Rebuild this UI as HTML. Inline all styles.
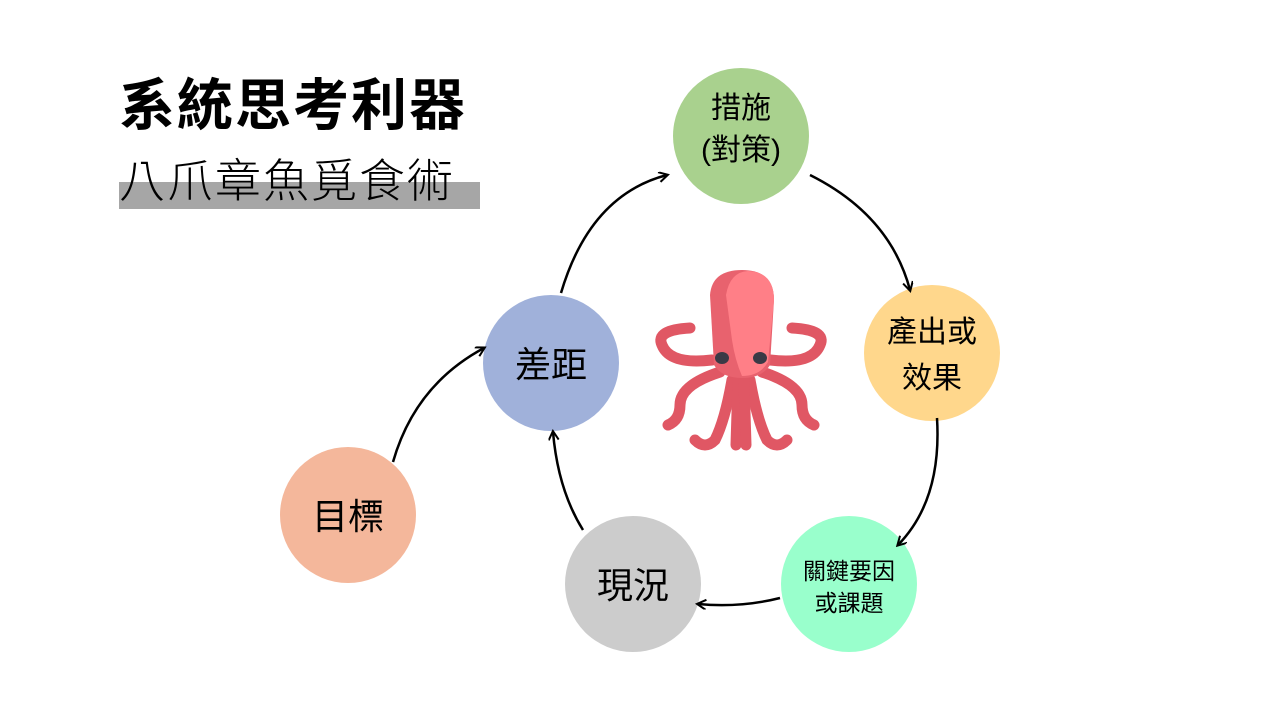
<!DOCTYPE html>
<html><head><meta charset="utf-8"><style>
body{margin:0;width:1280px;height:720px;background:#fff;overflow:hidden;position:relative;font-family:"Liberation Sans","Noto Sans CJK TC",sans-serif}
.t{position:absolute;white-space:nowrap}
</style></head><body>
<div class="t" style="left:119px;top:182px;width:361px;height:27px;background:#a6a6a6"></div>
<div class="t" style="left:119px;top:68px;font-size:56px;font-weight:bold;line-height:76px;color:#000;letter-spacing:2px">系統思考利器</div>
<div class="t" style="left:119px;top:148px;font-size:46px;font-weight:300;line-height:66px;color:#000;letter-spacing:2px">八爪章魚覓食術</div>
<svg width="1280" height="720" style="position:absolute;left:0;top:0">
<defs><marker id="a" markerWidth="12" markerHeight="12" refX="9" refY="5" orient="auto" markerUnits="userSpaceOnUse"><path d="M1,0 L10,5 L1,10" fill="none" stroke="#000" stroke-width="2"/></marker></defs>
<circle cx="741" cy="136" r="68" fill="#a9d18e"/>
<circle cx="932" cy="353" r="68" fill="#ffd78c"/>
<circle cx="849" cy="584" r="68" fill="#99ffcc"/>
<circle cx="633" cy="584" r="68" fill="#cccccc"/>
<circle cx="551" cy="363" r="68" fill="#a0b1da"/>
<circle cx="348" cy="515" r="68" fill="#f4b79b"/>
<g fill="none" stroke="#000" stroke-width="2.5" marker-end="url(#a)">
<path d="M561,293 Q590,195 667,175"/>
<path d="M810,175 Q890,215 910,290"/>
<path d="M937,418 Q942,500 898,545"/>
<path d="M780,598 Q740,608 698,604"/>
<path d="M583,530 Q558,490 553,432"/>
<path d="M393,462 Q415,385 484,348"/>
</g>
<g font-family="Liberation Sans,Noto Sans CJK TC,sans-serif" fill="#000" text-anchor="middle">
<text x="741" y="118" font-size="30">措施</text>
<text x="741" y="160" font-size="30">(對策)</text>
<text x="932" y="342" font-size="30">產出或</text>
<text x="932" y="388" font-size="30">效果</text>
<text x="849" y="579" font-size="23">關鍵要因</text>
<text x="849" y="611" font-size="23">或課題</text>
<text x="633" y="598" font-size="36">現況</text>
<text x="551" y="377" font-size="36">差距</text>
<text x="348" y="529" font-size="36">目標</text>
</g>
<g fill="none" stroke-linecap="round">
<g stroke="#e05764" stroke-width="11">
<path d="M712,360 Q670,365 662,345 Q655,330 690,328"/>
<path d="M770,360 Q812,365 820,345 Q827,330 792,328"/>
<path d="M720,372 Q680,385 680,405 Q680,420 668,425"/>
<path d="M762,372 Q802,385 802,405 Q802,420 814,425"/>
<path d="M732,380 Q725,420 715,440 Q705,450 695,440"/>
<path d="M750,380 Q757,420 767,440 Q777,450 787,440"/>
<path d="M738,380 L736,445"/>
<path d="M744,380 L746,445"/>
</g>
</g>
<path d="M710,295 Q712,270 742,270 Q774,270 774,300 L770,365 Q762,378 742,378 Q722,378 714,365 Z" fill="#e8626e"/>
<path d="M726,295 Q730,272 748,271 Q774,272 774,300 L768,362 Q760,376 742,376 Q735,360 732,340 Z" fill="#ff7f87"/>
<ellipse cx="722" cy="358" rx="7" ry="6" fill="#3a3a46"/>
<ellipse cx="760" cy="358" rx="7" ry="6" fill="#3a3a46"/>
</svg>
</body></html>
